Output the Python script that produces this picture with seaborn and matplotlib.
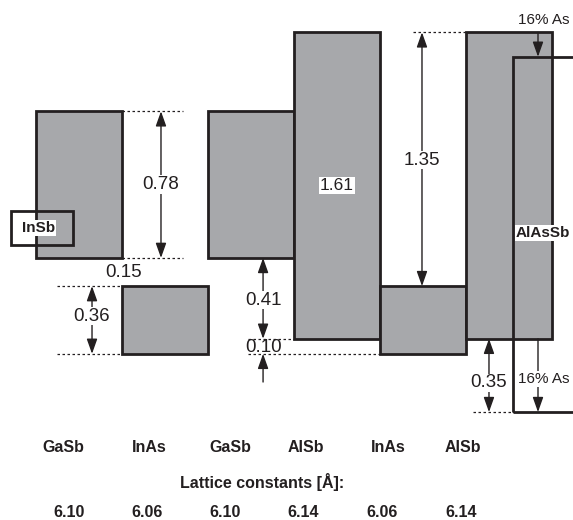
import numpy as np
import pandas as pd
import matplotlib.pyplot as plt
import seaborn as sns
from matplotlib.patches import Rectangle

# band alignment, energies in eV with the GaSb valence band at 0
materials = ['GaSb', 'InAs', 'GaSb', 'AlSb', 'InAs', 'AlSb']
lattice = ['6.10', '6.06', '6.10', '6.14', '6.06', '6.14']
vb = [0.00, -0.51, 0.00, -0.43, -0.51, -0.43]
cb = [0.78, -0.15, 0.78, 1.20, -0.15, 1.20]
alassb_edges = [-0.82, 1.07]
insb_edges = [0.07, 0.25]
offset_labels = ['0.78', '0.15', '0.36', '0.41', '0.10', '1.35', '1.61', '0.35']
as_label = '16% As'

df = pd.DataFrame({'material': materials, 'vb': vb, 'cb': cb, 'pos': np.arange(len(materials))})
df['gap'] = df['cb'] - df['vb']

sns.set_theme(style="white")
plt.rcParams['font.family'] = ['Liberation Sans', 'DejaVu Sans']

gray = '#a7a8ab'
edge = '#231f20'

fig = plt.figure(figsize=(5.73, 5.20), dpi=100)
ax = fig.add_axes([0, 0, 1, 1])
ax.set_xlim(-0.419, 6.244)
ax.set_ylim(-1.394, 1.372)
ax.axis('off')

ax.bar(df['pos'], df['gap'], bottom=df['vb'], width=1, align='edge',
       color=gray, edgecolor=edge, linewidth=2.0, zorder=2)

# AlAsSb: open box running off the right side
ax.add_patch(Rectangle((5.547, alassb_edges[0]), 2, alassb_edges[1] - alassb_edges[0],
                       fill=False, ec=edge, lw=2.0, zorder=3))
# InSb marker box
ax.add_patch(Rectangle((-0.29, insb_edges[0]), 0.72, insb_edges[1] - insb_edges[0],
                       fill=False, ec=edge, lw=2.0, zorder=3))

def dots(y, x0, x1):
    ax.plot([x0, x1], [y, y], color=edge, lw=0.9, ls=(0, (2, 2)), zorder=1)

def arrow(x, y0, y1, style='<|-|>'):
    ax.annotate('', xy=(x, y1), xytext=(x, y0),
                arrowprops=dict(arrowstyle=style + ',head_length=0.9,head_width=0.32',
                                color=edge, lw=1.0, shrinkA=0, shrinkB=0,
                                mutation_scale=10), zorder=4)

def num(x, y, s, size=13.5, box=True):
    kw = dict(bbox=dict(fc='white', ec='none', pad=0.5)) if box else {}
    ax.text(x, y, s, ha='center', va='center', fontsize=size, color=edge, zorder=5, **kw)

# GaSb gap
dots(cb[0], 1.0, 1.71)
dots(vb[0], 1.0, 1.71)
arrow(1.453, vb[0], cb[0])
num(1.453, (vb[0] + cb[0]) / 2, offset_labels[0])
# GaSb / InAs conduction offset
num(1.02, (vb[0] + cb[1]) / 2, offset_labels[1], box=False)
# InAs gap
dots(cb[1], 0.244, 1.0)
dots(vb[1], 0.244, 1.0)
arrow(0.651, vb[1], cb[1])
num(0.651, (vb[1] + cb[1]) / 2 + 0.02, offset_labels[2])
# GaSb / AlSb valence offset
dots(vb[3], 2.465, 3.0)
dots(vb[4], 2.465, 4.0)
arrow(2.64, vb[3], vb[2])
num(2.64, (vb[2] + vb[3]) / 2 - 0.01, offset_labels[3])
arrow(2.64, vb[4] - 0.15, vb[4], style='-|>')
num(2.64, (vb[3] + vb[4]) / 2 - 0.005, offset_labels[4], box=False)
# AlSb / InAs conduction offset
dots(cb[5], 4.384, 5.0)
arrow(4.488, cb[4], cb[5])
num(4.488, 0.52, offset_labels[5])
# AlSb gap
num(3.5, (vb[3] + cb[3]) / 2, offset_labels[6], size=12.5)
# AlAsSb valence offset
dots(alassb_edges[0], 5.08, 5.547)
arrow(5.267, alassb_edges[0], vb[5])
num(5.267, (alassb_edges[0] + vb[5]) / 2 - 0.04, offset_labels[7])
# 16% As shifts
arrow(5.837, cb[5], alassb_edges[1], style='-|>')
ax.text(5.9, cb[5] + 0.03, as_label, ha='center', va='bottom', fontsize=11, color=edge)
arrow(5.837, vb[5], alassb_edges[0], style='-|>')
ax.text(5.9, (vb[5] + alassb_edges[0]) / 2 - 0.02, as_label, ha='center', va='center',
        fontsize=11, color=edge, zorder=5, bbox=dict(fc='white', ec='none', pad=0.5))

ax.text(0.035, np.mean(insb_edges), 'InSb', ha='center', va='center', fontsize=11,
        fontweight='bold', color=edge, zorder=5, bbox=dict(fc='white', ec='none', pad=0.5))
ax.text(5.895, 0.133, 'AlAsSb', ha='center', va='center', fontsize=11,
        fontweight='bold', color=edge, zorder=5, bbox=dict(fc='white', ec='none', pad=0.5))

# labels underneath
name_x = [0.314, 1.314, 2.256, 3.14, 4.093, 4.965]
const_x = [0.384, 1.291, 2.198, 3.105, 4.023, 4.942]
for x, m in zip(name_x, materials):
    ax.text(x, 0.140, m, transform=ax.get_xaxis_transform(), ha='center', va='center',
            fontsize=11.5, fontweight='bold', color=edge)
ax.text(2.628, 0.073, 'Lattice constants [Å]:', transform=ax.get_xaxis_transform(),
        ha='center', va='center', fontsize=11.5, fontweight='bold', color=edge)
for x, c in zip(const_x, lattice):
    ax.text(x, 0.0135, c, transform=ax.get_xaxis_transform(), ha='center', va='center',
            fontsize=11.5, fontweight='bold', color=edge)

fig.savefig('out.png', dpi=100)
